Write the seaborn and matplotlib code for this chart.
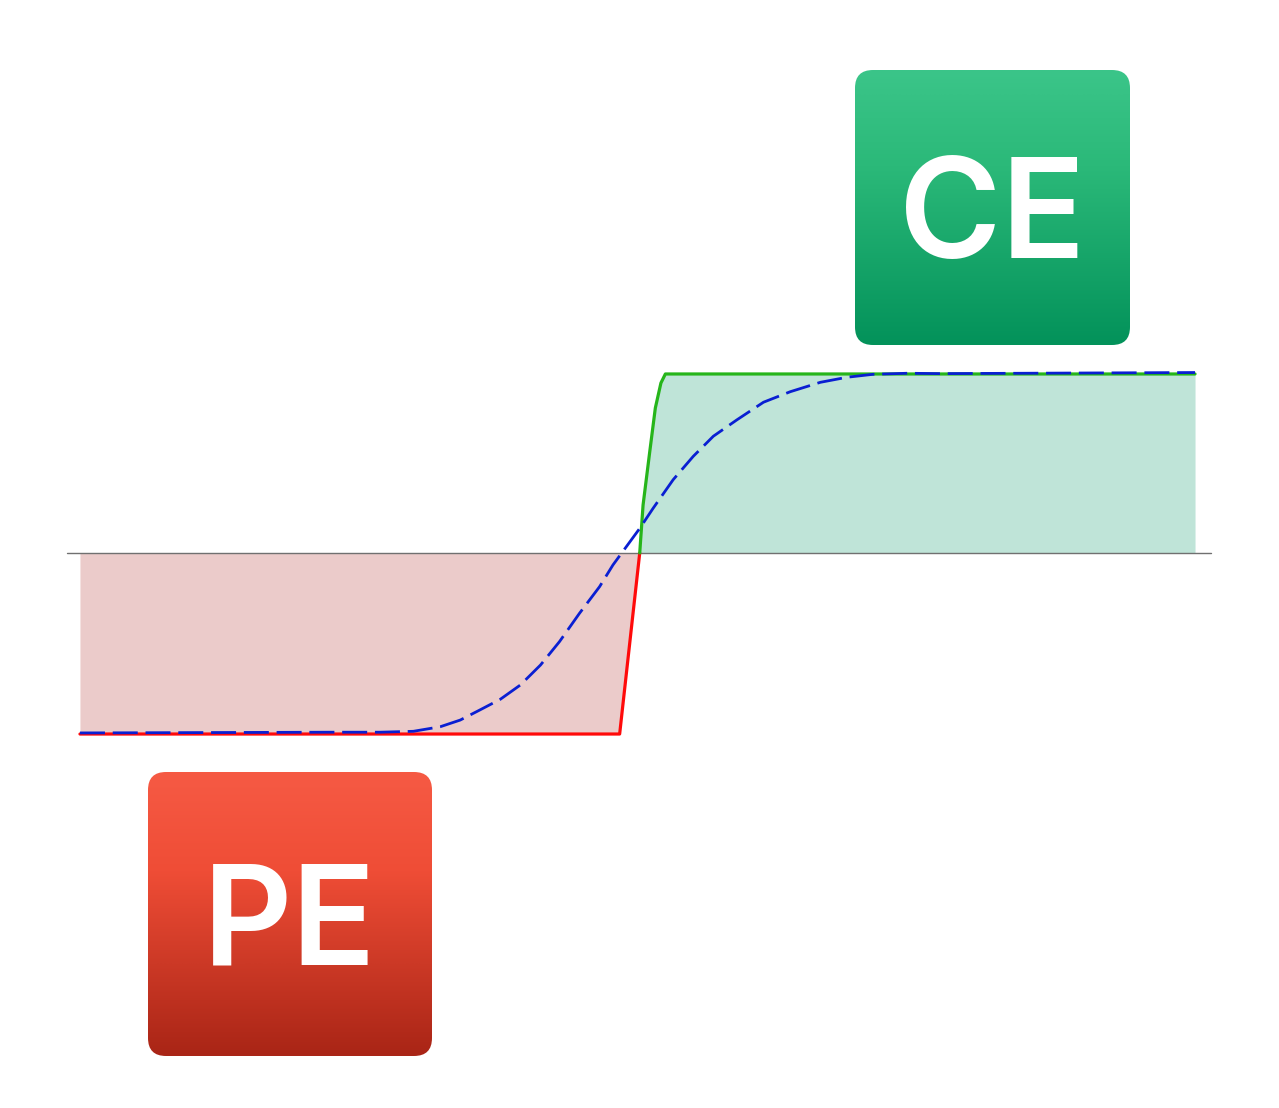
import numpy as np
import seaborn as sns
import matplotlib.pyplot as plt
from matplotlib.patches import FancyBboxPatch
from matplotlib.colors import to_rgb

# payoff legs (x = underlying, y = normalised payoff)
pe_x = [0, 48.4, 50.2]
pe_y = [-1.0, -1.0, 0.0]
ce_x = [50.2, 50.5, 51.1, 51.6, 52.1, 52.5, 100]
ce_y = [0.0, 0.265, 0.560, 0.801, 0.939, 0.989, 0.989]
# smoothed expected value curve (dashed)
mid_x = [0, 22.4, 26.9, 29.9, 32.3, 34.1, 35.9, 37.7, 39.5, 41.3, 43.0, 44.8,
         46.6, 47.8, 50.2, 51.4, 53.2, 55.0, 56.8, 58.9, 61.3, 63.7, 66.4,
         68.8, 71.1, 74.2, 77.1, 100]
mid_y = [-0.994, -0.99, -0.990, -0.985, -0.960, -0.923, -0.866, -0.808, -0.729,
         -0.619, -0.490, -0.333, -0.186, -0.066, 0.136, 0.247, 0.405, 0.534,
         0.645, 0.735, 0.833, 0.891, 0.943, 0.971, 0.987, 0.993, 0.991, 0.997]
zero_x = [-1.2, 101.4]
labels = ["CE", "PE"]

sns.set_theme(style="white")
plt.rcParams['font.family'] = ['Inter', 'Roboto', 'DejaVu Sans']

fig = plt.figure(figsize=(12.79, 11.08), dpi=100)
ax = fig.add_axes([0, 0, 1, 1])
ax.set_xlim(-7.17, 107.53)
ax.set_ylim(-3.066, 3.055)
ax.axis("off")

ax.fill_between(pe_x, pe_y, 0, color="#ebcbca", lw=0, zorder=1)
ax.fill_between(ce_x, ce_y, 0, color="#bfe4d8", lw=0, zorder=1)
ax.plot(zero_x, [0, 0], color="#707070", lw=1.0, zorder=2)

sns.lineplot(x=pe_x, y=pe_y, color="#ff0a0a", lw=2.3, ax=ax, zorder=3)
sns.lineplot(x=ce_x, y=ce_y, color="#26b51a", lw=2.3, ax=ax, zorder=3)
sns.lineplot(x=mid_x, y=mid_y, color="#0a1fd2", lw=2.0, ax=ax, zorder=4)
ax.lines[-1].set_dashes([9, 2.8])
ax.lines[-1].set_solid_joinstyle("round")


def badge(rect, top, mid, bottom, text):
    left, bot_px, w, h = rect
    bax = fig.add_axes([left / 1279, bot_px / 1108, w / 1279, h / 1108])
    bax.set_xlim(0, w)
    bax.set_ylim(0, h)
    bax.axis("off")
    c0, c1, c2 = (np.array(to_rgb(c)) for c in (top, mid, bottom))
    rows = []
    for v in np.linspace(0, 1, 256):
        if v < 0.35:
            rows.append(c0 + (c1 - c0) * v / 0.35)
        else:
            rows.append(c1 + (c2 - c1) * (v - 0.35) / 0.65)
    img = np.array(rows)[:, None, :]
    patch = FancyBboxPatch((0, 0), w, h, boxstyle="round,pad=0,rounding_size=18",
                           fc="none", ec="none")
    bax.add_patch(patch)
    im = bax.imshow(img, extent=[0, w, 0, h], aspect="auto", origin="upper",
                    interpolation="bicubic")
    im.set_clip_path(patch)
    bax.text(w / 2, h / 2, text, color="white", fontsize=100, fontweight="semibold",
             ha="center", va="center_baseline")


badge((855, 763, 275, 275), "#3bc589", "#2bb979", "#03925a", labels[0])
badge((148, 52, 284, 284), "#f65a44", "#ef4d36", "#a92516", labels[1])

plt.savefig("out.png", dpi=100)
